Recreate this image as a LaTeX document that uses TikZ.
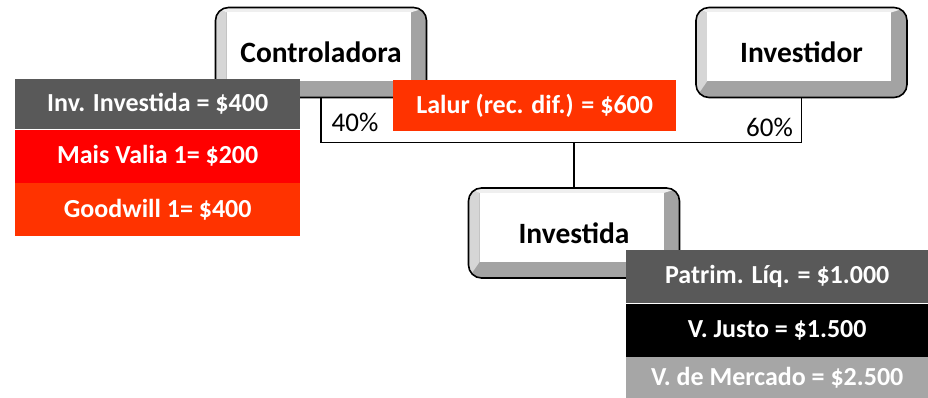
\documentclass[tikz,border=0pt]{standalone}
\usepackage{fontspec}
\setmainfont{Carlito}
\usepackage{tikz}
\usetikzlibrary{positioning}

\definecolor{darkgraybox}{HTML}{595959}
\definecolor{redbox}{HTML}{FF0000}
\definecolor{orangebox}{HTML}{FF3300}
\definecolor{lightgraybox}{HTML}{A6A6A6}
\definecolor{bevelbottom}{HTML}{A3A3A3}
\definecolor{bevelleft}{HTML}{D6D6D6}
\definecolor{beveltop}{HTML}{EFEFEF}

\newcommand{\entfont}{\fontsize{29.5}{33}\selectfont\bfseries}
\newcommand{\valfont}{\fontsize{26}{30}\selectfont\bfseries}

\tikzset{
  entity/.style={draw, line width=1.6pt, rounded corners=13pt, minimum width=211pt, minimum height=90pt,
    inner sep=0pt, fill=bevelbottom, font=\entfont,
    path picture={
      \fill[bevelleft, sharp corners] (path picture bounding box.north west) -- (path picture bounding box.south west)
        -- ([shift={(11pt,16pt)}]path picture bounding box.south west)
        -- ([shift={(11pt,-5pt)}]path picture bounding box.north west) -- cycle;
      \fill[beveltop, sharp corners] (path picture bounding box.north west) -- (path picture bounding box.north east)
        -- ([shift={(-16pt,-5pt)}]path picture bounding box.north east)
        -- ([shift={(11pt,-5pt)}]path picture bounding box.north west) -- cycle;
      \fill[white, sharp corners] ([shift={(11pt,16pt)}]path picture bounding box.south west)
        rectangle ([shift={(-16pt,-5pt)}]path picture bounding box.north east);
    }},
  valbox/.style={inner sep=0pt, text=white, font=\valfont, anchor=north west},
  link/.style={line width=1.3pt},
  pct/.style={font=\fontsize{27}{30}\selectfont}
}

\begin{document}
\begin{tikzpicture}[x=1pt, y=-1pt]
    \useasboundingbox (0,0) rectangle (928,398);

    % Connectors
    \coordinate (join) at (574,142.5);
    \node[entity] (ctrl) at (321,52.5) {Controladora};
    \node[entity] (invr) at (801.5,52.5) {Investidor};
    \node[entity] (invd) at (574,233) {Investida};
    \draw[link] (ctrl.south) |- (join) -| (invr.south);
    \draw[link] (join) -- (invd.north);
    \node[pct] (p40) at (355,122.5) {40\%};
    \node[pct] (p60) at (769.5,127) {60\%};

    % Controladora values
    \node[valbox, fill=darkgraybox, minimum width=285pt, minimum height=50pt] (invbox) at (15,79) {Inv. Investida = \$400};
    \node[valbox, fill=redbox, minimum width=285pt, minimum height=53pt, below=0pt of invbox.south west, anchor=north west] (maisvalia) {Mais Valia 1= \$200};
    \node[valbox, fill=orangebox, minimum width=285pt, minimum height=53pt, below=0pt of maisvalia.south west, anchor=north west] (goodwill) {Goodwill 1= \$400};

    % Lalur
    \node[valbox, fill=orangebox, minimum width=283pt, minimum height=51pt] (lalur) at (393,80) {Lalur (rec. dif.) = \$600};

    % Investida values
    \node[valbox, fill=darkgraybox, minimum width=302pt, minimum height=53pt] (patrim) at (626,250) {Patrim. Líq. = \$1.000};
    \node[valbox, fill=black, minimum width=302pt, minimum height=53pt, below=0pt of patrim.south west, anchor=north west] (vjusto) {V. Justo = \$1.500};
    \node[valbox, fill=lightgraybox, minimum width=302pt, minimum height=42pt, below=0pt of vjusto.south west, anchor=north west] (vmercado) {V. de Mercado = \$2.500};
\end{tikzpicture}
\end{document}
